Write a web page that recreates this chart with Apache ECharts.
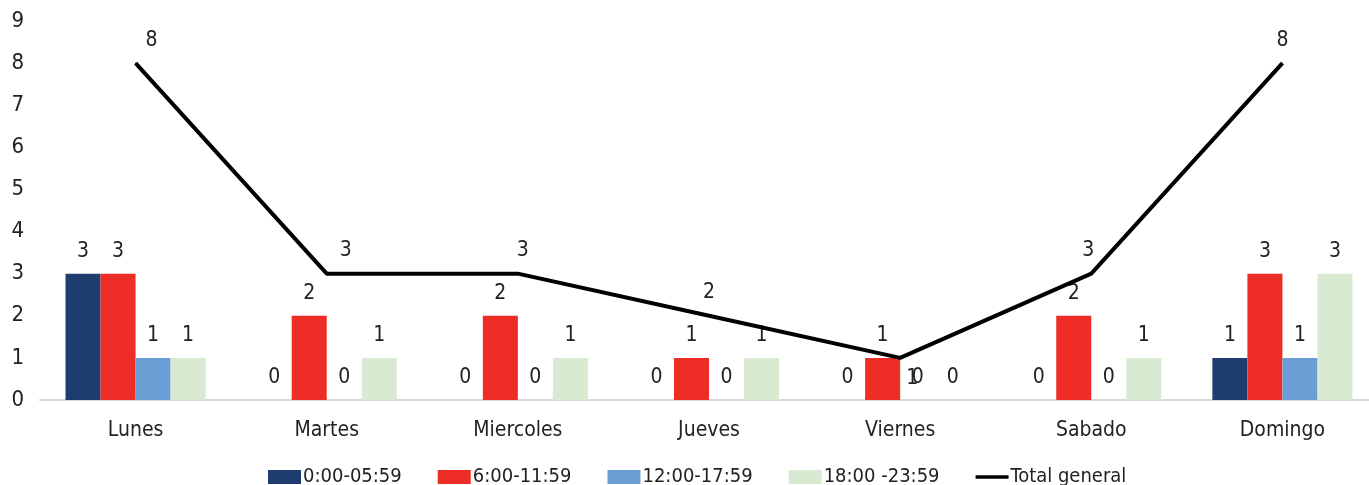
<!DOCTYPE html>
<html><head><meta charset="utf-8">
<script src="https://cdn.jsdelivr.net/npm/echarts@6/dist/echarts.min.js"></script>
<style>html,body{margin:0;padding:0;background:#fff;}#c{width:1369px;height:485px;}</style>
</head><body><div id="c"></div>
<script>
var categories = ['Lunes','Martes','Miercoles','Jueves','Viernes','Sabado','Domingo'];
var seriesNames = ['0:00-05:59','6:00-11:59','12:00-17:59','18:00 -23:59'];
var s0 = [3,0,0,0,0,0,1];
var s1 = [3,2,2,1,1,2,3];
var s2 = [1,0,0,0,0,0,1];
var s3 = [1,1,1,1,0,1,3];
var totalName = 'Total general';
var total = [8,3,3,2,1,3,8];
var yTicks = [0,1,2,3,4,5,6,7,8,9];

var FONT = '"DejaVu Sans Condensed","Liberation Sans Narrow","Open Sans",sans-serif';
var colors = ['#1E3C6E','#EE2D27','#6A9FD5','#D8EAD2'];
var lineLabelOffsets = [[16,0],[19,0],[5,0],[0,0],[12,44],[-3,0],[0,0]];

var barSeries = [s0,s1,s2,s3].map(function(d,i){
  return {
    name: seriesNames[i], type:'bar', data:d,
    barGap:'0%', barCategoryGap:'26.7%',
    itemStyle:{color:colors[i]},
    label:{show:true, position:'top', distance:12, fontFamily:FONT, fontSize:21, color:'#222'}
  };
});
var lineData = total.map(function(v,i){
  return {value:v, label:{offset:lineLabelOffsets[i]}};
});

var chart = echarts.init(document.getElementById('c'), null, {renderer:'canvas'});
chart.setOption({
  animation:false,
  grid:{left:40, width:1338, top:21, bottom:85, containLabel:false, outerBoundsMode:'none'},
  legend:{
    top:462, left:263, itemWidth:33, itemHeight:14, itemGap:36,
    textStyle:{fontFamily:FONT, fontSize:20, color:'#222', padding:[0,0,0,-3]},
    data: seriesNames.map(function(n){return {name:n, icon:'rect'};})
      .concat([{name:totalName, icon:'path://M0,0L40,0L40,4L0,4Z'}])
  },
  xAxis:{
    type:'category', data:categories,
    axisLine:{lineStyle:{color:'#d9d9d9', width:2}},
    axisTick:{show:false},
    axisLabel:{fontFamily:FONT, fontSize:21, color:'#222', margin:20}
  },
  yAxis:{
    type:'value', min:yTicks[0], max:yTicks[yTicks.length-1], interval:1,
    axisLine:{show:false}, axisTick:{show:false}, splitLine:{show:false},
    axisLabel:{fontFamily:FONT, fontSize:22, color:'#222', margin:16}
  },
  series: barSeries.concat([{
    name: totalName, type:'line', data:lineData,
    symbol:'circle', symbolSize:1, showSymbol:true,
    lineStyle:{color:'#000', width:4}, itemStyle:{color:'#000'},
    label:{show:true, position:'top', distance:12, fontFamily:FONT, fontSize:21, color:'#222'},
    z:5
  }])
});
</script></body></html>
